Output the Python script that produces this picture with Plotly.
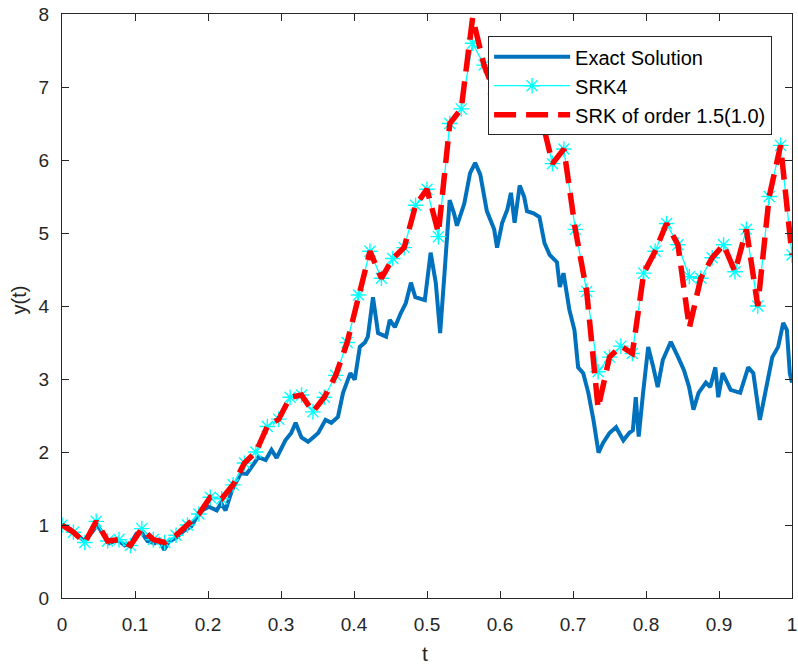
import numpy as np
import plotly.graph_objects as go

# Exact solution path (t, y)
t_exact = [0.000, 0.011, 0.022, 0.031, 0.041, 0.048, 0.056, 0.065, 0.076, 0.086,
           0.094, 0.102, 0.109, 0.117, 0.127, 0.133, 0.140, 0.147, 0.156, 0.167,
           0.177, 0.184, 0.192, 0.201, 0.212, 0.218, 0.224, 0.233, 0.245, 0.253,
           0.260, 0.269, 0.279, 0.287, 0.294, 0.306, 0.314, 0.320, 0.328, 0.337,
           0.344, 0.351, 0.361, 0.369, 0.378, 0.385, 0.395, 0.401, 0.408, 0.415,
           0.419, 0.426, 0.433, 0.444, 0.449, 0.456, 0.464, 0.471, 0.478, 0.484,
           0.497, 0.505, 0.512, 0.518, 0.524, 0.531, 0.537, 0.541, 0.551, 0.559,
           0.566, 0.573, 0.582, 0.592, 0.596, 0.603, 0.610, 0.615, 0.620, 0.627,
           0.633, 0.637, 0.646, 0.654, 0.661, 0.668, 0.678, 0.682, 0.687, 0.691,
           0.695, 0.702, 0.707, 0.714, 0.721, 0.728, 0.735, 0.741, 0.750, 0.759,
           0.769, 0.777, 0.782, 0.786, 0.790, 0.796, 0.803, 0.810, 0.816, 0.823,
           0.834, 0.844, 0.852, 0.859, 0.865, 0.872, 0.882, 0.888, 0.895, 0.899,
           0.905, 0.916, 0.929, 0.940, 0.947, 0.956, 0.963, 0.973, 0.981, 0.988,
           0.993, 0.997, 1.000]
y_exact = [1.00, 0.95, 0.85, 0.78, 0.90, 1.00, 0.88, 0.75, 0.80, 0.72,
           0.75, 0.88, 0.90, 0.78, 0.75, 0.80, 0.66, 0.78, 0.82, 0.92,
           0.98, 1.10, 1.20, 1.25, 1.20, 1.30, 1.20, 1.48, 1.71, 1.70,
           1.80, 1.93, 1.89, 2.03, 1.92, 2.16, 2.26, 2.40, 2.20, 2.14,
           2.20, 2.26, 2.44, 2.40, 2.48, 2.81, 3.08, 2.99, 3.44, 3.50,
           3.58, 4.12, 3.63, 3.58, 3.81, 3.71, 3.90, 4.04, 4.32, 4.12,
           4.08, 4.73, 4.32, 3.63, 4.45, 5.45, 5.27, 5.10, 5.40, 5.82,
           5.96, 5.80, 5.30, 5.05, 4.80, 5.14, 5.32, 5.55, 5.14, 5.65,
           5.50, 5.30, 5.27, 5.22, 4.86, 4.70, 4.60, 4.26, 4.45, 4.22,
           3.95, 3.67, 3.16, 3.08, 2.81, 2.44, 1.99, 2.12, 2.26, 2.34,
           2.16, 2.26, 2.30, 2.75, 2.21, 2.81, 3.44, 3.16, 2.89, 3.26,
           3.51, 3.30, 3.12, 2.89, 2.58, 2.81, 2.95, 2.89, 3.16, 2.75,
           3.08, 2.85, 2.81, 3.16, 3.08, 2.44, 2.81, 3.30, 3.44, 3.77,
           3.67, 3.08, 2.95]

# Numerical schemes on the coarse step grid
t_coarse = np.linspace(0.0, 1.0, 65)
y_srk4 = [1.00, 0.90, 0.76, 1.05, 0.78, 0.80, 0.72, 0.95, 0.80, 0.76,
          0.86, 1.00, 1.15, 1.38, 1.36, 1.55, 1.85, 2.00, 2.35, 2.45,
          2.75, 2.78, 2.55, 2.75, 3.05, 3.50, 4.15, 4.75, 4.38, 4.65,
          4.80, 5.38, 5.60, 4.95, 6.50, 6.70, 7.60, 7.30, 6.90, 7.20,
          6.80, 7.00, 6.60, 5.95, 6.15, 5.05, 4.20, 3.10, 3.30, 3.45,
          3.35, 4.45, 4.75, 5.13, 4.84, 4.40, 4.38, 4.66, 4.84, 4.47,
          5.05, 4.00, 5.50, 6.20, 4.70]
y_srk15 = [1.00, 0.90, 0.76, 1.05, 0.78, 0.80, 0.72, 0.95, 0.80, 0.76,
           0.86, 1.00, 1.15, 1.38, 1.36, 1.55, 1.85, 2.00, 2.35, 2.45,
           2.75, 2.78, 2.55, 2.75, 3.05, 3.50, 4.15, 4.75, 4.38, 4.65,
           4.80, 5.38, 5.60, 5.00, 6.50, 6.70, 7.95, 7.30, 6.90, 7.20,
           6.80, 7.00, 6.60, 5.95, 6.15, 5.05, 4.20, 2.60, 3.30, 3.45,
           3.35, 4.45, 4.75, 5.13, 4.84, 3.70, 4.38, 4.66, 4.84, 4.47,
           5.05, 4.00, 5.50, 6.20, 4.70]

x_ticks = [0, 0.1, 0.2, 0.3, 0.4, 0.5, 0.6, 0.7, 0.8, 0.9, 1]
x_tick_text = ["0", "0.1", "0.2", "0.3", "0.4", "0.5", "0.6", "0.7", "0.8", "0.9", "1"]
y_ticks = [0, 1, 2, 3, 4, 5, 6, 7, 8]

FONT = "Liberation Sans, Arial, sans-serif"
INK = "#262626"

fig = go.Figure()
fig.add_trace(go.Scatter(
    x=t_exact, y=y_exact, mode="lines", name="Exact Solution",
    line=dict(color="#0072BD", width=4),
))
fig.add_trace(go.Scatter(
    x=t_coarse, y=y_srk4, mode="lines+markers", name="SRK4",
    line=dict(color="#00FFFF", width=1.3),
    marker=dict(symbol="asterisk-open", size=13, color="#00FFFF",
                line=dict(color="#00FFFF", width=1.4)),
))
fig.add_trace(go.Scatter(
    x=t_coarse, y=y_srk15, mode="lines", name="SRK of order 1.5(1.0)",
    line=dict(color="#FF0000", width=5.5, dash="22px,10px"),
))

axis_common = dict(
    showline=True, linecolor=INK, linewidth=1, mirror="ticks",
    ticks="inside", ticklen=7, tickwidth=1, tickcolor=INK,
    showgrid=False, zeroline=False,
    tickfont=dict(family=FONT, size=19, color=INK),
    ticklabeloverflow="allow",
)
fig.update_xaxes(range=[0, 1], tickvals=x_ticks, ticktext=x_tick_text,
                 ticklabelstandoff=9, **axis_common)
fig.update_yaxes(range=[0, 8], tickvals=y_ticks, ticklabelstandoff=8,
                 **axis_common)

fig.add_annotation(text="t", xref="paper", yref="paper", x=0.4966, y=-0.0945,
                   xanchor="center", yanchor="middle",
                   showarrow=False, font=dict(family=FONT, size=21, color=INK))
fig.add_annotation(text="y(t)", xref="paper", yref="paper", x=-0.0585, y=0.51,
                   xanchor="center", yanchor="middle",
                   textangle=-90, showarrow=False,
                   font=dict(family=FONT, size=20, color=INK))

fig.update_layout(
    width=798, height=667,
    margin=dict(l=62, r=1, t=14, b=69),
    paper_bgcolor="white", plot_bgcolor="white",
    showlegend=True,
    legend=dict(
        x=0.5837, y=0.962, xanchor="left", yanchor="top",
        bgcolor="white", bordercolor=INK, borderwidth=1,
        font=dict(family=FONT, size=20, color="#000000"),
        itemwidth=76,
    ),
)

fig.write_html("out.html")
